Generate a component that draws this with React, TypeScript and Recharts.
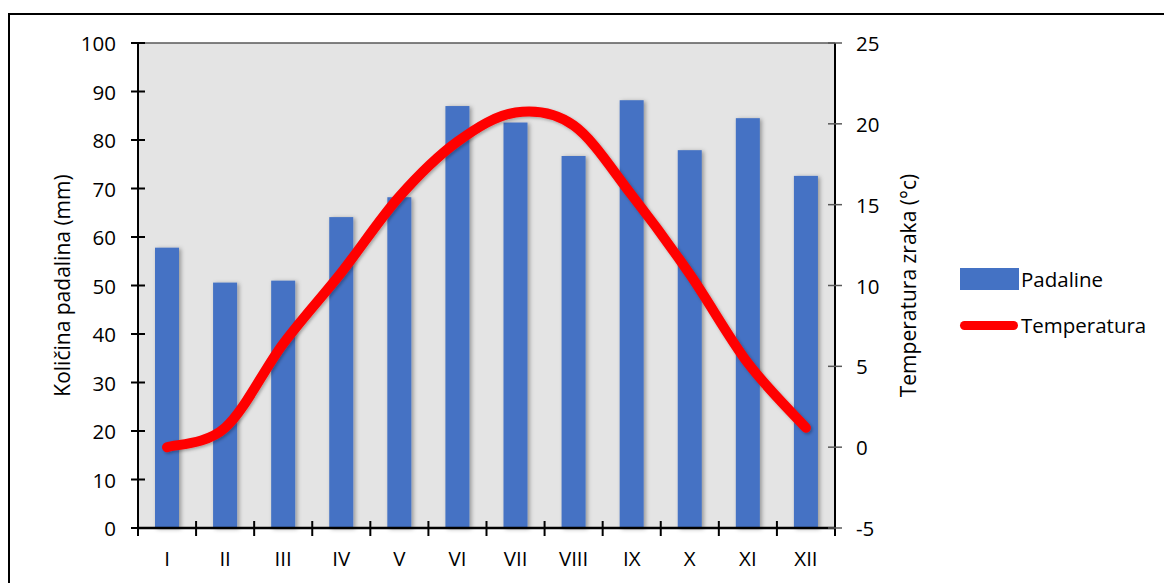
import React from 'react';
import { ComposedChart, Bar, Line, XAxis, YAxis, CartesianGrid, ReferenceLine } from 'recharts';

const months = ['I', 'II', 'III', 'IV', 'V', 'VI', 'VII', 'VIII', 'IX', 'X', 'XI', 'XII'];
const precipitation = [57.8, 50.6, 51.0, 64.1, 68.2, 87.0, 83.6, 76.7, 88.2, 77.9, 84.5, 72.6];
const temperature = [0, 1.2, 6.4, 10.8, 15.5, 18.9, 20.7, 19.9, 15.6, 10.7, 5.2, 1.2];
const precipTicks = [0, 10, 20, 30, 40, 50, 60, 70, 80, 90, 100];
const tempTicks = [-5, 0, 5, 10, 15, 20, 25];

const data = months.map((m, i) => ({ month: m, padaline: precipitation[i], temperatura: temperature[i] }));

const FONT = '"Open Sans", "DejaVu Sans", sans-serif';
const FS = 20.5;
const LFS = 21;

// Catmull-Rom style smoothing similar to Excel's smoothed line
const smoothCurve: any = (context: any) => {
  let pts: number[][] = [];
  return {
    areaStart() {},
    areaEnd() {},
    lineStart() { pts = []; },
    point(x: number, y: number) { pts.push([+x, +y]); },
    lineEnd() {
      if (!pts.length) return;
      context.moveTo(pts[0][0], pts[0][1]);
      for (let i = 0; i < pts.length - 1; i++) {
        const p0 = pts[i - 1] || pts[i];
        const p1 = pts[i];
        const p2 = pts[i + 1];
        const p3 = pts[i + 2] || pts[i + 1];
        const c1x = p1[0] + (p2[0] - p0[0]) / 6;
        const c1y = p1[1] + (p2[1] - p0[1]) / 6;
        const c2x = p2[0] - (p3[0] - p1[0]) / 6;
        const c2y = p2[1] - (p3[1] - p1[1]) / 6;
        context.bezierCurveTo(c1x, c1y, c2x, c2y, p2[0], p2[1]);
      }
    },
  };
};

const LeftTick = (props: any) => {
  const { x, y, payload } = props;
  return (
    <g>
      <line x1={x - 7} x2={x + 7} y1={y} y2={y} stroke="#000" strokeWidth={2} />
      <text x={x - 22} y={y} textAnchor="end" dominantBaseline="central" fontSize={FS} fontFamily={FONT} fill="#000">
        {payload.value}
      </text>
    </g>
  );
};

const RightTick = (props: any) => {
  const { x, y, payload } = props;
  return (
    <g>
      <line x1={x - 7} x2={x + 7} y1={y} y2={y} stroke="#595959" strokeWidth={1.5} />
      <text x={x + 21} y={y} textAnchor="start" dominantBaseline="central" fontSize={FS} fontFamily={FONT} fill="#000">
        {payload.value}
      </text>
    </g>
  );
};

const BottomTick = (props: any) => {
  const { x, y, payload, index, visibleTicksCount } = props;
  const off = payload.offset || 0;
  return (
    <g>
      <line x1={x - off} x2={x - off} y1={y - 7} y2={y + 8} stroke="#000" strokeWidth={2} />
      {index === visibleTicksCount - 1 && (
        <line x1={x + off} x2={x + off} y1={y - 7} y2={y + 8} stroke="#000" strokeWidth={2} />
      )}
      <text x={x} y={y + 30} textAnchor="middle" dominantBaseline="central" fontSize={FS} fontFamily={FONT} fill="#000">
        {payload.value}
      </text>
    </g>
  );
};

const BarShape = (props: any) => {
  const { x, y, width, height } = props;
  return <rect x={x} y={y} width={width} height={height} fill="#4472c4" filter="url(#barShadow)" />;
};

const LeftLabel = (props: any) => {
  const vb = props.viewBox;
  const cx = vb.x + 62;
  const cy = vb.y + vb.height / 2;
  return (
    <text x={cx} y={cy} transform={`rotate(-90, ${cx}, ${cy})`} textAnchor="middle" dominantBaseline="central" fontSize={LFS} fontFamily={FONT} fill="#000">
      Količina padalina (mm)
    </text>
  );
};

const RightLabel = (props: any) => {
  const vb = props.viewBox;
  const cx = vb.x + 73;
  const cy = vb.y + vb.height / 2;
  return (
    <text x={cx} y={cy} transform={`rotate(-90, ${cx}, ${cy})`} textAnchor="middle" dominantBaseline="central" fontSize={LFS} fontFamily={FONT} fill="#000">
      Temperatura zraka (°c)
    </text>
  );
};

export default function App() {
  return (
    <div style={{ position: 'absolute', left: 0, top: 0, width: 1164, height: 583, overflow: 'hidden', background: '#fff' }}>
      <div style={{ position: 'absolute', left: 8, top: 13, width: 1300, height: 700, border: '2px solid #000' }} />
      <div style={{ position: 'absolute', left: 0, top: 0 }}>
        <ComposedChart
          width={1164}
          height={583}
          data={data}
          margin={{ top: 43, right: 229, bottom: 0, left: 0 }}
        >
          <defs>
            <filter id="barShadow" x="-50%" y="-10%" width="200%" height="130%">
              <feDropShadow dx="2" dy="1" stdDeviation="2" floodColor="#000" floodOpacity="0.35" />
            </filter>
            <filter id="lineShadow" x="-10%" y="-10%" width="120%" height="130%">
              <feDropShadow dx="1.5" dy="1.5" stdDeviation="1.5" floodColor="#000" floodOpacity="0.3" />
            </filter>
          </defs>
          <CartesianGrid horizontal={false} vertical={false} fill="#e4e4e4" yAxisId="left" />
          <XAxis
            dataKey="month"
            height={55}
            tickSize={0}
            tickMargin={0}
            tickLine={false}
            axisLine={{ stroke: '#000', strokeWidth: 2.5 }}
            tick={<BottomTick />}
            interval={0}
          />
          <YAxis
            yAxisId="left"
            orientation="left"
            width={138}
            domain={[0, 100]}
            ticks={precipTicks}
            interval={0}
            tickSize={0}
            tickMargin={0}
            tickLine={false}
            axisLine={{ stroke: '#000', strokeWidth: 2 }}
            tick={<LeftTick />}
            label={{ content: <LeftLabel /> }}
          />
          <YAxis
            yAxisId="right"
            orientation="right"
            width={100}
            domain={[-5, 25]}
            ticks={tempTicks}
            interval={0}
            tickSize={0}
            tickMargin={0}
            tickLine={false}
            axisLine={{ stroke: '#000', strokeWidth: 2 }}
            tick={<RightTick />}
            label={{ content: <RightLabel /> }}
          />
          <ReferenceLine yAxisId="left" y={100} stroke="#595959" strokeWidth={1.5} />
          <Bar
            yAxisId="left"
            dataKey="padaline"
            barSize={24}
            fill="#4472c4"
            shape={<BarShape />}
            isAnimationActive={false}
          />
          <Line
            yAxisId="right"
            dataKey="temperatura"
            type={smoothCurve}
            stroke="#ff0000"
            strokeWidth={10}
            strokeLinecap="round"
            dot={false}
            activeDot={false}
            filter="url(#lineShadow)"
            isAnimationActive={false}
          />
        </ComposedChart>
      </div>
      <div style={{ position: 'absolute', left: 960, top: 268, width: 59, height: 22, background: '#4472c4' }} />
      <div style={{ position: 'absolute', left: 1021, top: 279, transform: 'translateY(-50%)', fontFamily: FONT, fontSize: FS, color: '#000', lineHeight: 1, whiteSpace: 'nowrap' }}>
        Padaline
      </div>
      <div style={{ position: 'absolute', left: 960, top: 320.5, width: 58, height: 9, borderRadius: 4.5, background: '#ff0000' }} />
      <div style={{ position: 'absolute', left: 1021, top: 325, transform: 'translateY(-50%)', fontFamily: FONT, fontSize: FS, color: '#000', lineHeight: 1, whiteSpace: 'nowrap' }}>
        Temperatura
      </div>
    </div>
  );
}
